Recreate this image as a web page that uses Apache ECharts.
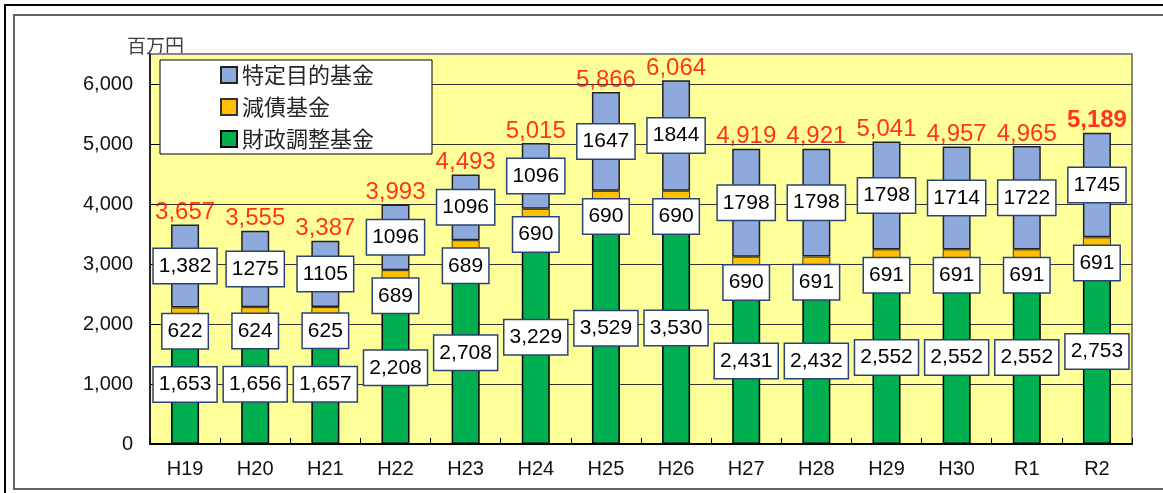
<!DOCTYPE html>
<html><head><meta charset="utf-8">
<script src="https://cdn.jsdelivr.net/npm/echarts@6/dist/echarts.min.js"></script>
<style>html,body{margin:0;padding:0;background:#fff}#c{width:1163px;height:493px}</style>
</head><body><div id="c"></div>
<script>
const categories = ['H19','H20','H21','H22','H23','H24','H25','H26','H27','H28','H29','H30','R1','R2'];
const zaisei = [1653,1656,1657,2208,2708,3229,3529,3530,2431,2432,2552,2552,2552,2753];
const gensai = [622,624,625,689,689,690,690,690,690,691,691,691,691,691];
const tokutei = [1382,1275,1105,1096,1096,1096,1647,1844,1798,1798,1798,1714,1722,1745];
const tokuteiText = ['1,382','1275','1105','1096','1096','1096','1647','1844','1798','1798','1798','1714','1722','1745'];
const totals = [3657,3555,3387,3993,4493,5015,5866,6064,4919,4921,5041,4957,4965,5189];
const names = ['特定目的基金','減債基金','財政調整基金'];

const FONT = '"Liberation Sans", "Noto Sans CJK JP", sans-serif';
const boxLabel = {
  show: true, position: 'inside', backgroundColor: '#fff', borderColor: '#2a4373', borderWidth: 1.5,
  padding: [7, 5, 6, 5], color: '#000', fontSize: 21, lineHeight: 21, fontFamily: FONT
};
const fmt = v => v.toLocaleString('en-US');

const chart = echarts.init(document.getElementById('c'), null, {renderer: 'canvas'});
chart.setOption({
  animation: false,
  textStyle: {fontFamily: FONT},
  graphic: [
    {type: 'rect', shape: {x: 5, y: 5, width: 1200, height: 520}, style: {fill: 'none', stroke: '#000', lineWidth: 2}, silent: true},
    {type: 'rect', shape: {x: 14, y: 15, width: 1200, height: 474}, style: {fill: 'none', stroke: '#333', lineWidth: 1.5}, silent: true},
    {type: 'text', left: 127, top: 36, z: -1, style: {text: '百万円', fontSize: 19, fill: '#404040', fontFamily: '"Noto Sans CJK JP", sans-serif'}}
  ],
  grid: {left: 150, right: 31, top: 54, bottom: 49, show: true, backgroundColor: '#FFFF99', borderColor: '#888', borderWidth: 2, z: 1},
  legend: {
    data: names, orient: 'vertical', left: 160, top: 60,
    backgroundColor: '#fff', borderColor: '#000', borderWidth: 1,
    padding: [4, 58, 4, 60], itemGap: 10, itemWidth: 16, itemHeight: 16, icon: 'rect',
    textStyle: {fontSize: 22, color: '#262626', fontFamily: '"Noto Sans CJK JP", sans-serif'}
  },
  xAxis: {
    type: 'category', data: categories, z: 2,
    axisLine: {lineStyle: {color: '#000', width: 2}},
    axisTick: {show: true, inside: true, length: 6, lineStyle: {color: '#000'}},
    axisLabel: {fontSize: 20, color: '#111', margin: 15}
  },
  yAxis: {
    type: 'value', min: 0, max: 6500, interval: 1000, z: 2,
    axisLine: {show: true, lineStyle: {color: '#000', width: 1.5}},
    axisTick: {show: true, inside: true, length: 10, lineStyle: {color: '#000'}},
    axisLabel: {fontSize: 20, color: '#111', margin: 17, showMaxLabel: false, formatter: v => fmt(v)},
    splitLine: {show: true, showMaxLine: false, lineStyle: {color: '#333', width: 1}}
  },
  series: [
    {
      name: names[2], type: 'bar', stack: 'a', data: zaisei, barWidth: 28, z: 3,
      itemStyle: {color: '#00B050', borderColor: '#000', borderWidth: 1.5},
      label: Object.assign({}, boxLabel, {offset: [0, -10], formatter: p => fmt(p.value)})
    },
    {
      name: names[1], type: 'bar', stack: 'a', data: gensai, barWidth: 28, z: 3,
      itemStyle: {color: '#FFC000', borderColor: '#333', borderWidth: 1},
      label: Object.assign({}, boxLabel, {offset: [0, 5], formatter: p => String(p.value)})
    },
    {
      name: names[0], type: 'bar', stack: 'a', data: tokutei, barWidth: 28, z: 3,
      itemStyle: {color: '#8EA9DB', borderColor: '#222', borderWidth: 1.5},
      label: Object.assign({}, boxLabel, {formatter: p => tokuteiText[p.dataIndex]})
    },
    {
      name: 'total', type: 'scatter', symbolSize: 0, z: 5,
      data: totals.map((v, i) => i === totals.length - 1 ? {value: v, label: {fontWeight: 'bold'}} : v),
      label: {show: true, position: 'top', distance: 0, color: '#FF0000', fontSize: 24, fontFamily: FONT, formatter: p => fmt(p.value)}
    }
  ]
});
</script></body></html>
